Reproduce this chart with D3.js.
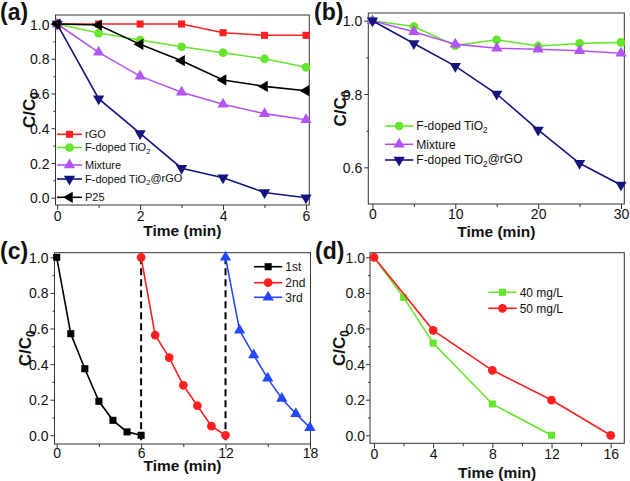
<!DOCTYPE html>
<html><head><meta charset="utf-8">
<script src="https://cdn.jsdelivr.net/npm/d3@7"></script>
<style>body{margin:0;background:#fff}svg{display:block}text{font-family:"Liberation Sans",Arial,sans-serif}</style>
</head><body>
<svg id="chart" width="630" height="481"></svg>
<script>
// ---------- data ----------
const timeA = [0, 1, 2, 3, 4, 5, 6];
const aRGO = [1.0, 1.0, 1.0, 1.0, 0.95, 0.935, 0.935];
const aFTiO2 = [1.0, 0.948, 0.908, 0.869, 0.835, 0.80, 0.751];
const aMixture = [1.0, 0.837, 0.70, 0.607, 0.538, 0.484, 0.449];
const aComposite = [1.0, 0.57, 0.37, 0.17, 0.115, 0.03, 0.0];
const aP25 = [1.0, 0.994, 0.883, 0.789, 0.678, 0.641, 0.616];

const timeB = [0, 5, 10, 15, 20, 25, 30];
const bFTiO2 = [1.0, 0.984, 0.932, 0.948, 0.931, 0.938, 0.941];
const bMixture = [1.0, 0.970, 0.936, 0.925, 0.922, 0.918, 0.911];
const bComposite = [1.0, 0.938, 0.876, 0.80, 0.702, 0.611, 0.552];

const timeC1 = [0, 1, 2, 3, 4, 5, 6];
const c1st = [1.0, 0.571, 0.374, 0.191, 0.084, 0.019, 0.0];
const timeC2 = [6, 7, 8, 9, 10, 11, 12];
const c2nd = [1.0, 0.563, 0.436, 0.281, 0.166, 0.051, 0.0];
const timeC3 = [12, 13, 14, 15, 16, 17, 18];
const c3rd = [1.0, 0.59, 0.451, 0.32, 0.206, 0.121, 0.043];
const cycleBreaks = [6, 12];

const timeD40 = [0, 2, 4, 8, 12];
const d40 = [1.0, 0.775, 0.518, 0.176, 0.0];
const timeD50 = [0, 4, 8, 12, 16];
const d50 = [1.0, 0.59, 0.365, 0.198, 0.0];

// tick labels
const xTicksA = [0, 2, 4, 6], xMinorA = [1, 3, 5];
const yTicksA = [0, 0.2, 0.4, 0.6, 0.8, 1.0], yMinorA = [0.1, 0.3, 0.5, 0.7, 0.9];
const xTicksB = [0, 10, 20, 30], xMinorB = [5, 15, 25];
const yTicksB = [0.6, 0.8, 1.0], yMinorB = [0.7, 0.9];
const xTicksC = [0, 6, 12, 18], xMinorC = [3, 9, 15];
const yTicksC = [0, 0.2, 0.4, 0.6, 0.8, 1.0], yMinorC = [0.1, 0.3, 0.5, 0.7, 0.9];
const xTicksD = [0, 4, 8, 12, 16], xMinorD = [2, 6, 10, 14];
const yTicksD = [0, 0.2, 0.4, 0.6, 0.8, 1.0], yMinorD = [0.1, 0.3, 0.5, 0.7, 0.9];

// ---------- styles ----------
const RED = "#ff1f1f", GREEN = "#64e62c", PURPLE = "#b255f7", NAVY = "#14147e",
      BLACK = "#000000", BLUE = "#2448ff";
const SYM = {
  square: {type: d3.symbolSquare, size: 50, rot: 0},
  circle: {type: d3.symbolCircle, size: 60, rot: 0},
  up: {type: d3.symbolTriangle, size: 55, rot: 0},
  down: {type: d3.symbolTriangle, size: 55, rot: 180},
  left: {type: d3.symbolTriangle, size: 55, rot: -90}
};

const svg = d3.select("#chart");

function richText(sel, str, subScale) {
  // "{x}" marks subscript
  const parts = str.split(/(\{[^}]*\})/).filter(s => s.length);
  let prevSub = false;
  parts.forEach(p => {
    if (p.startsWith("{")) {
      sel.append("tspan").attr("dy", "0.3em").attr("font-size", subScale + "em").text(p.slice(1, -1));
      prevSub = true;
    } else {
      const t = sel.append("tspan").text(p);
      if (prevSub) t.attr("dy", "-0.3em");
      prevSub = false;
    }
  });
}

function marker(g, sym, color, cx, cy) {
  const s = SYM[sym];
  g.append("path")
    .attr("d", d3.symbol().type(s.type).size(s.size)())
    .attr("transform", `translate(${cx},${cy}) rotate(${s.rot})`)
    .attr("fill", color);
}

function panel(cfg) {
  const g = svg.append("g");
  const x = d3.scaleLinear().domain(cfg.xd).range([cfg.l, cfg.r]);
  const y = d3.scaleLinear().domain(cfg.yd).range([cfg.b, cfg.t]);

  // axes
  const xa = g.append("g").attr("transform", `translate(0,${cfg.b})`)
    .call(d3.axisBottom(x).tickValues(cfg.xMajor).tickSize(5).tickFormat(d3.format("d")));
  const xm = g.append("g").attr("transform", `translate(0,${cfg.b})`)
    .call(d3.axisBottom(x).tickValues(cfg.xMinor).tickSize(3).tickFormat(""));
  const ya = g.append("g").attr("transform", `translate(${cfg.l},0)`)
    .call(d3.axisLeft(y).tickValues(cfg.yMajor).tickSize(4).tickFormat(d3.format(".1f")));
  const ym = g.append("g").attr("transform", `translate(${cfg.l},0)`)
    .call(d3.axisLeft(y).tickValues(cfg.yMinor).tickSize(2).tickFormat(""));
  [xa, xm, ya, ym].forEach(a => {
    a.select(".domain").remove();
    a.selectAll("line").attr("stroke", "#333");
  });
  xa.selectAll("text").attr("font-size", 14).attr("fill", "#111")
    .attr("font-family", "Liberation Sans, Arial, sans-serif")
    .attr("y", cfg.xLabOff).attr("dy", null);
  ya.selectAll("text").attr("font-size", 14).attr("fill", "#111")
    .attr("font-family", "Liberation Sans, Arial, sans-serif")
    .attr("x", -cfg.yLabGap).attr("dy", "0.36em");

  // frame
  g.append("rect").attr("x", cfg.l).attr("y", cfg.t)
    .attr("width", cfg.r - cfg.l).attr("height", cfg.b - cfg.t)
    .attr("fill", "none").attr("stroke", "#333").attr("stroke-width", 1);

  // extra (dashed lines)
  if (cfg.vlines) {
    cfg.vlines.forEach(v => {
      g.append("line").attr("x1", x(v)).attr("x2", x(v))
        .attr("y1", y(1.0)).attr("y2", cfg.b)
        .attr("stroke", "#000").attr("stroke-width", 2).attr("stroke-dasharray", "7,4");
    });
  }

  // series
  const line = d3.line().x(d => x(d[0])).y(d => y(d[1]));
  cfg.series.forEach(s => {
    const pts = s.xs.map((v, i) => [v, s.ys[i]]);
    g.append("path").attr("d", line(pts)).attr("fill", "none")
      .attr("stroke", s.color).attr("stroke-width", 1.6);
    pts.forEach(p => marker(g, s.sym, s.color, x(p[0]), y(p[1])));
  });

  // legend
  cfg.series.forEach((s, i) => {
    const ly = cfg.leg.y[i];
    g.append("line").attr("x1", cfg.leg.x1).attr("x2", cfg.leg.x2)
      .attr("y1", ly).attr("y2", ly).attr("stroke", s.color).attr("stroke-width", 1.6);
    marker(g, s.sym, s.color, (cfg.leg.x1 + cfg.leg.x2) / 2, ly);
    const t = g.append("text").attr("x", cfg.leg.x2 + 3).attr("y", ly).attr("dy", "0.36em")
      .attr("font-size", cfg.leg.fs).attr("fill", "#111");
    richText(t, s.name, 0.7);
  });

  // axis titles
  g.append("text").attr("x", (cfg.l + cfg.r) / 2).attr("y", cfg.b + cfg.xTitleOff)
    .attr("text-anchor", "middle").attr("font-weight", "bold").attr("font-size", 15.5)
    .attr("fill", "#111").text("Time (min)");
  const yt = g.append("text")
    .attr("transform", `translate(${cfg.yTitleX},${(cfg.t + cfg.b) / 2}) rotate(-90)`)
    .attr("text-anchor", "middle").attr("font-weight", "bold").attr("font-size", 17).attr("fill", "#111");
  richText(yt, "C/C{0}", 0.7);

  // panel label
  g.append("text").attr("x", cfg.labX).attr("y", cfg.labY)
    .attr("font-weight", "bold").attr("font-size", 23).attr("fill", "#111").text(cfg.label);
}

panel({
  label: "(a)", labX: 0, labY: 20,
  l: 55.5, r: 309.3, t: 15, b: 205,
  xd: [-0.04, 6.08], yd: [-0.042, 1.052],
  xMajor: xTicksA, xMinor: xMinorA, yMajor: yTicksA, yMinor: yMinorA,
  xLabOff: 16, yLabGap: 6, xTitleOff: 31, yTitleX: 35,
  series: [
    {name: "rGO", xs: timeA, ys: aRGO, color: RED, sym: "square"},
    {name: "F-doped TiO{2}", xs: timeA, ys: aFTiO2, color: GREEN, sym: "circle"},
    {name: "Mixture", xs: timeA, ys: aMixture, color: PURPLE, sym: "up"},
    {name: "F-doped TiO{2}@rGO", xs: timeA, ys: aComposite, color: NAVY, sym: "down"},
    {name: "P25", xs: timeA, ys: aP25, color: BLACK, sym: "left"}
  ],
  leg: {x1: 57, x2: 82, fs: 11, y: [134.3, 147.5, 165, 179, 197.3]}
});

panel({
  label: "(b)", labX: 314, labY: 20,
  l: 368.3, r: 624.3, t: 13, b: 204,
  xd: [-0.5, 30.4], yd: [0.5, 1.021],
  xMajor: xTicksB, xMinor: xMinorB, yMajor: yTicksB, yMinor: yMinorB,
  xLabOff: 15, yLabGap: 6, xTitleOff: 33, yTitleX: 346,
  series: [
    {name: "F-doped TiO{2}", xs: timeB, ys: bFTiO2, color: GREEN, sym: "circle"},
    {name: "Mixture", xs: timeB, ys: bMixture, color: PURPLE, sym: "up"},
    {name: "F-doped TiO{2}@rGO", xs: timeB, ys: bComposite, color: NAVY, sym: "down"}
  ],
  leg: {x1: 385, x2: 413.3, fs: 12, y: [126, 144.3, 160]}
});

panel({
  label: "(c)", labX: 0, labY: 259,
  l: 54.5, r: 310.5, t: 252.7, b: 444,
  xd: [-0.156, 18.04], yd: [-0.049, 1.026],
  xMajor: xTicksC, xMinor: xMinorC, yMajor: yTicksC, yMinor: yMinorC,
  xLabOff: 13.5, yLabGap: 6, xTitleOff: 26.5, yTitleX: 31,
  vlines: cycleBreaks,
  series: [
    {name: "1st", xs: timeC1, ys: c1st, color: BLACK, sym: "square"},
    {name: "2nd", xs: timeC2, ys: c2nd, color: RED, sym: "circle"},
    {name: "3rd", xs: timeC3, ys: c3rd, color: BLUE, sym: "up"}
  ],
  leg: {x1: 254, x2: 282.3, fs: 12, y: [266.7, 282.7, 297.3]}
});

panel({
  label: "(d)", labX: 315, labY: 259,
  l: 370, r: 624.3, t: 252.7, b: 443.3,
  xd: [-0.27, 16.92], yd: [-0.045, 1.026],
  xMajor: xTicksD, xMinor: xMinorD, yMajor: yTicksD, yMinor: yMinorD,
  xLabOff: 16, yLabGap: 5, xTitleOff: 34.5, yTitleX: 345,
  series: [
    {name: "40 mg/L", xs: timeD40, ys: d40, color: GREEN, sym: "square"},
    {name: "50 mg/L", xs: timeD50, ys: d50, color: RED, sym: "circle"}
  ],
  leg: {x1: 488.3, x2: 516.7, fs: 12, y: [292.3, 308.3]}
});
</script>
</body></html>
